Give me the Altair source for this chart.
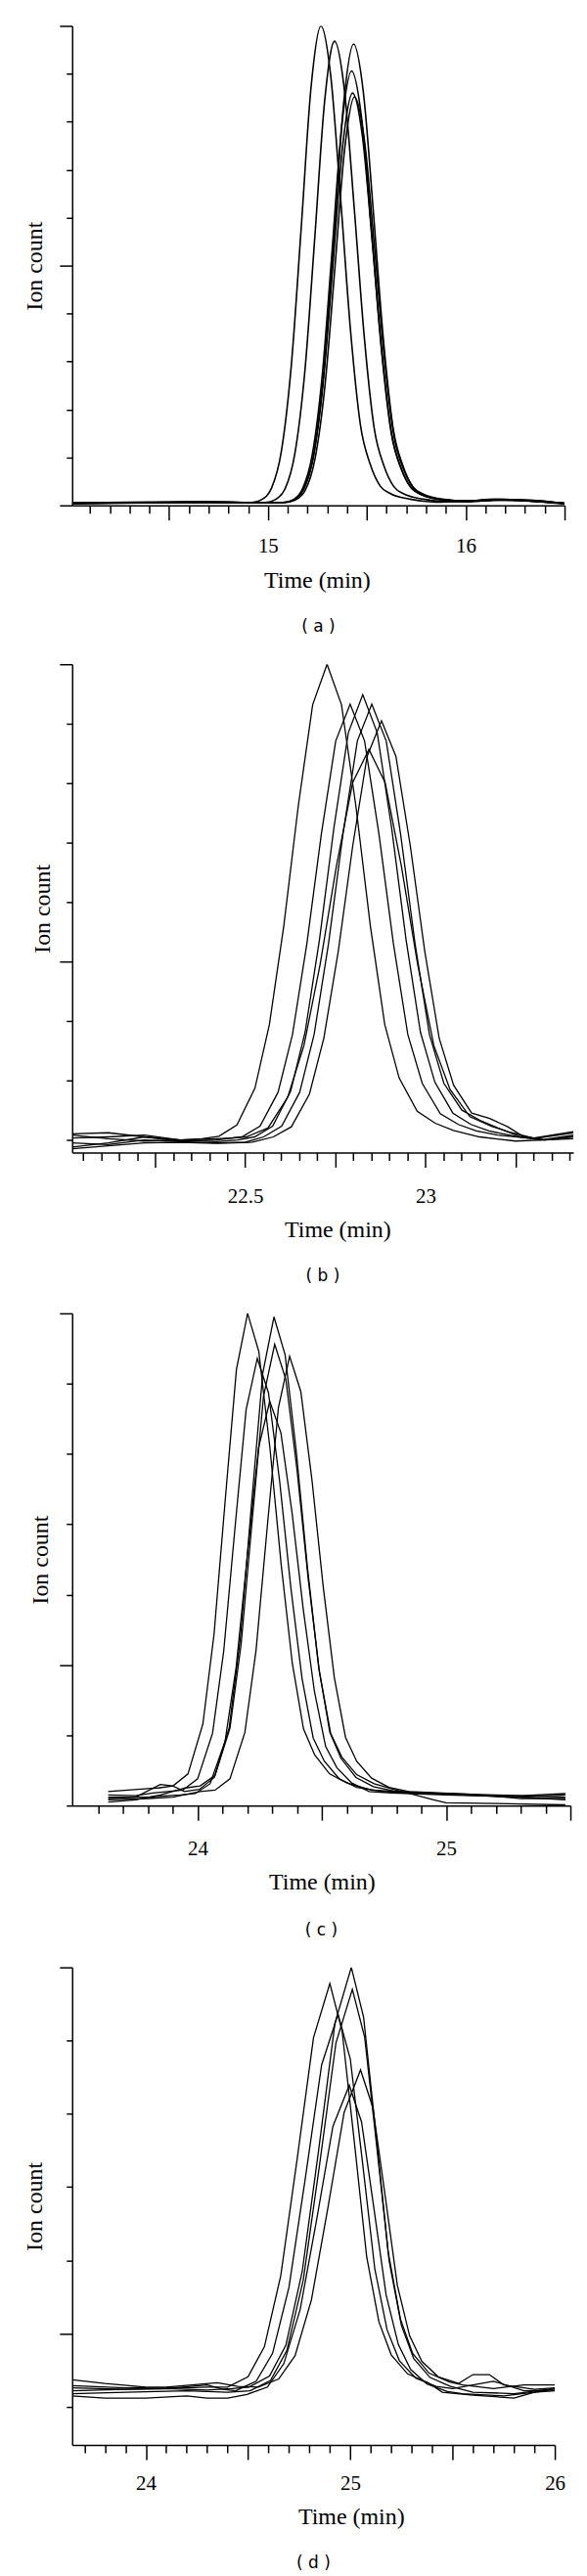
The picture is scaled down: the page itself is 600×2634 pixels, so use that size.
import altair as alt
import pandas as pd

# ---------------- Panel (a) ----------------
A1_T = [14.01, 14.4, 14.7, 14.918, 14.968, 15.018, 15.068, 15.118, 15.168, 15.218, 15.268, 15.318, 15.368, 15.418, 15.468, 15.518, 15.568, 15.618, 15.718, 15.85, 16.0, 16.15, 16.3, 16.5]
A1_V = [0.04, 0.06, 0.07, 0.06, 0.12, 0.36, 1.13, 2.91, 5.77, 8.72, 10.0, 8.94, 6.37, 3.63, 1.67, 0.85, 0.40, 0.25, 0.13, 0.07, 0.09, 0.12, 0.10, 0.04]
A2_T = [14.01, 14.4, 14.7, 14.9, 14.987, 15.037, 15.087, 15.137, 15.187, 15.237, 15.287, 15.337, 15.387, 15.437, 15.487, 15.537, 15.587, 15.637, 15.687, 15.787, 15.9, 16.05, 16.2, 16.35, 16.5]
A2_V = [0.05, 0.07, 0.06, 0.05, 0.06, 0.12, 0.35, 1.10, 2.81, 5.59, 8.44, 9.68, 8.65, 6.17, 3.52, 1.62, 0.82, 0.39, 0.24, 0.13, 0.08, 0.10, 0.11, 0.08, 0.05]
A3_T = [14.01, 14.35, 14.65, 14.9, 15.0, 15.083, 15.133, 15.183, 15.233, 15.283, 15.333, 15.383, 15.433, 15.483, 15.533, 15.583, 15.633, 15.683, 15.733, 15.783, 15.883, 16.0, 16.15, 16.3, 16.5]
A3_V = [0.03, 0.05, 0.08, 0.05, 0.05, 0.06, 0.12, 0.35, 1.09, 2.80, 5.55, 8.39, 9.62, 8.60, 6.13, 3.50, 1.61, 0.82, 0.39, 0.24, 0.13, 0.09, 0.13, 0.10, 0.03]
A4_T = [14.01, 14.4, 14.75, 14.95, 15.073, 15.123, 15.173, 15.223, 15.273, 15.323, 15.373, 15.423, 15.473, 15.523, 15.573, 15.623, 15.673, 15.723, 15.773, 15.873, 16.0, 16.2, 16.35, 16.5]
A4_V = [0.05, 0.06, 0.07, 0.05, 0.06, 0.11, 0.33, 1.03, 2.64, 5.23, 7.90, 9.06, 8.10, 5.77, 3.29, 1.52, 0.77, 0.37, 0.23, 0.12, 0.08, 0.12, 0.10, 0.04]
A5_T = [14.01, 14.45, 14.8, 14.95, 15.078, 15.128, 15.178, 15.228, 15.278, 15.328, 15.378, 15.428, 15.478, 15.528, 15.578, 15.628, 15.678, 15.728, 15.778, 15.878, 16.0, 16.15, 16.3, 16.5]
A5_V = [0.04, 0.06, 0.06, 0.05, 0.06, 0.11, 0.32, 0.98, 2.50, 4.97, 7.50, 8.60, 7.69, 5.48, 3.13, 1.44, 0.73, 0.35, 0.22, 0.12, 0.08, 0.11, 0.11, 0.04]
A6_T = [14.01, 14.5, 14.8, 14.95, 15.088, 15.138, 15.188, 15.238, 15.288, 15.338, 15.388, 15.438, 15.488, 15.538, 15.588, 15.638, 15.688, 15.738, 15.788, 15.888, 16.0, 16.2, 16.35, 16.5]
A6_V = [0.05, 0.06, 0.07, 0.05, 0.06, 0.11, 0.31, 0.97, 2.48, 4.92, 7.43, 8.52, 7.61, 5.43, 3.10, 1.43, 0.73, 0.35, 0.22, 0.12, 0.09, 0.12, 0.09, 0.04]

# ---------------- Panel (b) ----------------
B1_T = [22.02, 22.12, 22.22, 22.32, 22.38, 22.427, 22.477, 22.527, 22.567, 22.607, 22.647, 22.687, 22.727, 22.767, 22.807, 22.847, 22.887, 22.927, 22.977, 23.027, 23.077, 23.15, 23.25, 23.33, 23.41]
B1_V = [0.10, 0.12, 0.05, 0.00, 0.02, 0.06, 0.25, 0.87, 1.94, 3.60, 5.61, 7.32, 8.00, 7.32, 5.61, 3.60, 1.94, 1.04, 0.48, 0.28, 0.16, 0.05, -0.02, 0.00, 0.05]
B2_T = [22.02, 22.12, 22.22, 22.32, 22.42, 22.491, 22.541, 22.591, 22.631, 22.671, 22.711, 22.751, 22.791, 22.831, 22.871, 22.911, 22.951, 22.991, 23.041, 23.091, 23.141, 23.2, 23.3, 23.41]
B2_V = [-0.12, -0.05, 0.05, -0.02, 0.00, 0.05, 0.23, 0.80, 1.77, 3.30, 5.14, 6.71, 7.33, 6.71, 5.14, 3.30, 1.77, 0.95, 0.44, 0.26, 0.15, 0.08, 0.02, 0.12]
B3_T = [22.02, 22.12, 22.22, 22.32, 22.42, 22.48, 22.526, 22.576, 22.626, 22.666, 22.706, 22.746, 22.786, 22.826, 22.866, 22.906, 22.946, 22.986, 23.026, 23.076, 23.126, 23.176, 23.25, 23.32, 23.41]
B3_V = [0.03, 0.05, 0.08, 0.00, -0.03, 0.00, 0.05, 0.23, 0.82, 1.81, 3.37, 5.25, 6.85, 7.49, 6.85, 5.25, 3.37, 1.81, 0.97, 0.45, 0.26, 0.15, 0.06, 0.00, 0.08]
B4_T = [22.02, 22.12, 22.22, 22.32, 22.42, 22.5, 22.551, 22.601, 22.651, 22.691, 22.731, 22.771, 22.811, 22.851, 22.891, 22.931, 22.971, 23.011, 23.051, 23.101, 23.151, 23.201, 23.26, 23.33, 23.41]
B4_V = [-0.05, -0.08, 0.00, -0.03, -0.05, -0.04, 0.05, 0.23, 0.80, 1.77, 3.30, 5.14, 6.71, 7.33, 6.71, 5.14, 3.30, 1.77, 0.95, 0.50, 0.33, 0.20, 0.06, 0.00, 0.02]
B5_T = [22.02, 22.12, 22.22, 22.32, 22.42, 22.52, 22.578, 22.628, 22.678, 22.718, 22.758, 22.798, 22.838, 22.878, 22.918, 22.958, 22.998, 23.038, 23.078, 23.128, 23.178, 23.228, 23.27, 23.33, 23.41]
B5_V = [-0.15, -0.10, -0.05, -0.04, -0.06, -0.04, 0.05, 0.22, 0.77, 1.71, 3.17, 4.94, 6.45, 7.05, 6.45, 4.94, 3.17, 1.71, 0.92, 0.45, 0.36, 0.22, 0.06, 0.00, 0.06]
B6_T = [22.02, 22.12, 22.22, 22.32, 22.42, 22.46, 22.503, 22.563, 22.618, 22.663, 22.708, 22.753, 22.798, 22.843, 22.888, 22.933, 22.978, 23.023, 23.068, 23.123, 23.183, 23.233, 23.3, 23.41]
B6_V = [0.08, 0.02, -0.02, 0.00, 0.02, 0.03, 0.05, 0.20, 0.72, 1.59, 2.96, 4.61, 6.01, 6.57, 6.01, 4.61, 2.96, 1.59, 0.85, 0.39, 0.23, 0.13, 0.03, 0.14]

# ---------------- Panel (c) ----------------
C1_T = [23.64, 23.72, 23.80, 23.841, 23.901, 23.961, 24.021, 24.066, 24.111, 24.156, 24.201, 24.246, 24.291, 24.336, 24.381, 24.426, 24.471, 24.531, 24.601, 24.7, 24.9, 25.1, 25.3, 25.48]
C1_V = [0.20, 0.22, 0.24, 0.25, 0.28, 0.45, 1.16, 2.44, 4.35, 6.20, 7.00, 6.46, 5.08, 3.43, 2.02, 1.09, 0.72, 0.45, 0.32, 0.22, 0.18, 0.15, 0.14, 0.17]
C2_T = [23.64, 23.75, 23.85, 23.9, 23.947, 24.007, 24.067, 24.127, 24.172, 24.217, 24.262, 24.307, 24.352, 24.397, 24.442, 24.487, 24.532, 24.577, 24.637, 24.707, 24.8, 25.0, 25.2, 25.48]
C2_V = [0.10, 0.12, 0.30, 0.28, 0.20, 0.23, 0.40, 1.11, 2.39, 4.30, 6.15, 6.95, 6.41, 5.03, 3.38, 1.97, 1.04, 0.67, 0.40, 0.27, 0.20, 0.17, 0.15, 0.12]
C3_T = [23.64, 23.75, 23.85, 23.95, 24.01, 24.07, 24.13, 24.175, 24.22, 24.265, 24.31, 24.355, 24.4, 24.445, 24.49, 24.535, 24.58, 24.64, 24.71, 24.8, 24.95, 25.0, 25.2, 25.48]
C3_V = [0.05, 0.08, 0.15, 0.25, 0.28, 0.43, 1.10, 2.30, 4.08, 5.82, 6.56, 6.06, 4.77, 3.22, 1.90, 1.03, 0.69, 0.44, 0.31, 0.22, 0.08, 0.04, 0.03, 0.01]
C4_T = [23.64, 23.75, 23.82, 23.88, 23.94, 24.0, 24.06, 24.105, 24.15, 24.195, 24.24, 24.285, 24.33, 24.375, 24.42, 24.465, 24.51, 24.57, 24.64, 24.75, 25.0, 25.3, 25.48]
C4_V = [0.15, 0.14, 0.18, 0.20, 0.22, 0.38, 1.03, 2.20, 3.94, 5.63, 6.36, 5.87, 4.61, 3.10, 1.81, 0.96, 0.63, 0.38, 0.26, 0.20, 0.16, 0.12, 0.15]
C5_T = [23.64, 23.8, 23.9, 24.01, 24.07, 24.13, 24.19, 24.235, 24.28, 24.325, 24.37, 24.415, 24.46, 24.505, 24.55, 24.595, 24.64, 24.70, 24.77, 24.85, 25.1, 25.3, 25.48]
C5_V = [0.08, 0.10, 0.12, 0.20, 0.22, 0.38, 1.04, 2.21, 3.96, 5.66, 6.39, 5.89, 4.63, 3.12, 1.82, 0.97, 0.63, 0.39, 0.26, 0.20, 0.16, 0.10, 0.10]
C6_T = [23.64, 23.8, 23.88, 23.93, 23.99, 24.05, 24.11, 24.155, 24.2, 24.245, 24.29, 24.335, 24.38, 24.425, 24.47, 24.515, 24.56, 24.62, 24.69, 24.78, 25.0, 25.3, 25.48]
C6_V = [0.12, 0.12, 0.14, 0.15, 0.17, 0.31, 0.91, 1.97, 3.55, 5.09, 5.75, 5.30, 4.16, 2.79, 1.62, 0.84, 0.54, 0.32, 0.20, 0.18, 0.15, 0.12, 0.08]

# ---------------- Panel (d) ----------------
D1_T = [23.64, 23.8, 24.0, 24.2, 24.3, 24.4, 24.5, 24.58, 24.66, 24.74, 24.82, 24.9, 24.96, 25.02, 25.08, 25.14, 25.2, 25.28, 25.38, 25.45, 25.6, 25.8, 25.9, 26.0]
D1_V = [0.37, 0.32, 0.27, 0.26, 0.27, 0.27, 0.41, 0.82, 1.79, 3.38, 5.04, 5.78, 5.13, 3.61, 2.05, 1.16, 0.71, 0.45, 0.33, 0.20, 0.16, 0.12, 0.20, 0.22]
D2_T = [23.64, 23.9, 24.1, 24.3, 24.42, 24.505, 24.605, 24.685, 24.765, 24.845, 24.925, 25.005, 25.065, 25.125, 25.185, 25.245, 25.305, 25.385, 25.485, 25.55, 25.7, 25.85, 26.0]
D2_V = [0.22, 0.24, 0.25, 0.23, 0.25, 0.27, 0.42, 0.84, 1.85, 3.50, 5.24, 6.00, 5.32, 3.74, 2.12, 1.20, 0.73, 0.46, 0.34, 0.30, 0.25, 0.30, 0.30]
D3_T = [23.64, 23.9, 24.2, 24.4, 24.51, 24.61, 24.69, 24.77, 24.85, 24.93, 25.01, 25.07, 25.13, 25.19, 25.25, 25.31, 25.39, 25.49, 25.6, 25.8, 26.0]
D3_V = [0.18, 0.20, 0.22, 0.20, 0.22, 0.36, 0.77, 1.73, 3.31, 4.97, 5.70, 5.05, 3.54, 1.99, 1.11, 0.66, 0.40, 0.28, 0.20, 0.18, 0.25]
D4_T = [23.64, 23.9, 24.1, 24.35, 24.45, 24.55, 24.65, 24.73, 24.81, 24.89, 24.97, 25.05, 25.11, 25.17, 25.23, 25.29, 25.35, 25.43, 25.53, 25.6, 25.68, 25.75, 25.9, 26.0]
D4_V = [0.29, 0.26, 0.27, 0.33, 0.28, 0.27, 0.38, 0.70, 1.46, 2.71, 4.02, 4.60, 4.09, 2.89, 1.66, 0.97, 0.62, 0.41, 0.32, 0.44, 0.44, 0.30, 0.24, 0.26]
D5_T = [23.64, 23.8, 24.0, 24.2, 24.3, 24.4, 24.495, 24.595, 24.675, 24.755, 24.835, 24.915, 24.995, 25.055, 25.115, 25.175, 25.235, 25.295, 25.375, 25.475, 25.55, 25.75, 25.9, 26.0]
D5_V = [0.15, 0.12, 0.12, 0.15, 0.12, 0.12, 0.17, 0.27, 0.59, 1.33, 2.55, 3.83, 4.39, 3.89, 2.72, 1.53, 0.85, 0.51, 0.31, 0.21, 0.18, 0.15, 0.20, 0.25]
D6_T = [23.64, 23.9, 24.1, 24.3, 24.38, 24.44, 24.54, 24.62, 24.70, 24.78, 24.86, 24.94, 25.0, 25.06, 25.12, 25.18, 25.24, 25.32, 25.42, 25.5, 25.6, 25.7, 25.85, 26.0]
D6_V = [0.26, 0.24, 0.25, 0.30, 0.24, 0.22, 0.35, 0.73, 1.63, 3.12, 4.67, 5.36, 4.75, 3.33, 1.88, 1.05, 0.63, 0.39, 0.28, 0.25, 0.30, 0.35, 0.22, 0.23]

# ---------------- Axis ticks ----------------
XT_A = [14.1, 14.2, 14.3, 14.4, 14.5, 14.6, 14.7, 14.8, 14.9, 15.0, 15.1, 15.2, 15.3, 15.4, 15.5, 15.6, 15.7, 15.8, 15.9, 16.0, 16.1, 16.2, 16.3, 16.4, 16.5]
XT_B = [22.05, 22.1, 22.15, 22.2, 22.25, 22.3, 22.35, 22.4, 22.45, 22.5, 22.55, 22.6, 22.65, 22.7, 22.75, 22.8, 22.85, 22.9, 22.95, 23.0, 23.05, 23.1, 23.15, 23.2, 23.25, 23.3, 23.35, 23.4]
XT_C = [23.6, 23.7, 23.8, 23.9, 24.0, 24.1, 24.2, 24.3, 24.4, 24.5, 24.6, 24.7, 24.8, 24.9, 25.0, 25.1, 25.2, 25.3, 25.4, 25.5]
XT_D = [23.7, 23.8, 23.9, 24.0, 24.1, 24.2, 24.3, 24.4, 24.5, 24.6, 24.7, 24.8, 24.9, 25.0, 25.1, 25.2, 25.3, 25.4, 25.5, 25.6, 25.7, 25.8, 25.9, 26.0]
YT_A = [0, 1, 2, 3, 4, 5, 6, 7, 8, 9, 10]
YT_B = [0, 1, 2, 3, 4, 5, 6, 7, 8]
YT_C = [0, 1, 2, 3, 4, 5, 6, 7]
YT_D = [0, 1, 2, 3, 4, 5, 6]
YMAJ_A = [0, 5, 10]
YMAJ_B = [3, 8]
YMAJ_C = [2, 7]
YMAJ_D = [1, 6]

SERIF = "Liberation Serif"
SANS = "DejaVu Sans"

HALF = "abs(datum.value * 2 - round(datum.value * 2)) < 0.001"
QUARTER = "abs(datum.value * 4 - round(datum.value * 4)) < 0.001"
WHOLE = "abs(datum.value - round(datum.value)) < 0.001"


def frame(curves):
    rows = []
    for name, ts, vs in curves:
        for i, (t, v) in enumerate(zip(ts, vs)):
            rows.append({"run": name, "t": t, "v": v, "i": i})
    return pd.DataFrame(rows)


def panel(df, xdom, ydom, xticks, yticks, xmajor, ymaj, xlab, width, height,
          interp, sw, xtitle_x, ytitle_x, label_pad, xtitle_y, caption, cap_off):
    xaxis = alt.Axis(
        values=xticks, title="Time (min)", grid=False,
        tickSize={"condition": {"test": xmajor, "value": 15}, "value": 8},
        tickColor="black", tickWidth=1.5, domainColor="black", domainWidth=1.5,
        labelExpr=f"({xlab}) ? format(datum.value, '~g') : ''",
        labelFont=SERIF, labelFontSize=21, labelColor="black", labelAngle=0,
        labelBaseline="alphabetic", labelPadding=label_pad, labelFlush=False,
        labelOverlap=False,
        titleFont=SERIF, titleFontSize=24, titleFontWeight="normal", titleColor="black",
        titleX=xtitle_x, titleY=xtitle_y, titleBaseline="alphabetic",
        titleAlign="center", titleAngle=0)
    ytest = " || ".join(f"datum.value === {m}" for m in ymaj)
    yaxis = alt.Axis(
        values=yticks, labels=False, title="Ion count", grid=False,
        tickSize={"condition": {"test": ytest, "value": 13}, "value": 6},
        tickColor="black", tickWidth=1.5, domainColor="black", domainWidth=1.5,
        titleFont=SERIF, titleFontSize=24, titleFontWeight="normal", titleColor="black",
        titleX=ytitle_x, titleY=height / 2, titleAngle=270,
        titleBaseline="alphabetic", titleAlign="center")
    return alt.Chart(df).mark_line(
        color="black", strokeWidth=sw, interpolate=interp, clip=True
    ).encode(
        x=alt.X("t:Q", scale=alt.Scale(domain=xdom, nice=False, zero=False), axis=xaxis),
        y=alt.Y("v:Q", scale=alt.Scale(domain=ydom, nice=False, zero=False), axis=yaxis),
        detail="run:N",
        order="i:Q",
    ).properties(
        width=width, height=height,
        title=alt.TitleParams(caption, orient="bottom", font=SANS, fontSize=17,
                              fontWeight="normal", color="black", offset=cap_off,
                              anchor="middle", frame="group"),
    )


df_a = frame([("1", A1_T, A1_V), ("2", A2_T, A2_V), ("3", A3_T, A3_V),
              ("4", A4_T, A4_V), ("5", A5_T, A5_V), ("6", A6_T, A6_V)])
df_b = frame([("1", B1_T, B1_V), ("2", B2_T, B2_V), ("3", B3_T, B3_V),
              ("4", B4_T, B4_V), ("5", B5_T, B5_V), ("6", B6_T, B6_V)])
df_c = frame([("1", C1_T, C1_V), ("2", C2_T, C2_V), ("3", C3_T, C3_V),
              ("4", C4_T, C4_V), ("5", C5_T, C5_V), ("6", C6_T, C6_V)])
df_d = frame([("1", D1_T, D1_V), ("2", D2_T, D2_V), ("3", D3_T, D3_V),
              ("4", D4_T, D4_V), ("5", D5_T, D5_V), ("6", D6_T, D6_V)])

pa = panel(df_a, [14.01, 16.5], [0, 10], XT_A, YT_A, HALF, YMAJ_A, WHOLE,
           505, 492, "monotone", 1.6, 251, -31, 33, 84, "( a )", 28)
pb = panel(df_b, [22.02, 23.41], [-0.213, 8], XT_B, YT_B, QUARTER, YMAJ_B, HALF,
           514, 501, "linear", 1.3, 272, -23, 36, 86, "( b )", 28)
pc = panel(df_c, [23.495, 25.5], [0, 7], XT_C, YT_C, HALF, YMAJ_C, WHOLE,
           511, 505, "linear", 1.3, 256, -25, 35, 86, "( c )", 29)
pd_ = panel(df_d, [23.64, 26.0], [-0.52, 6], XT_D, YT_D, HALF, YMAJ_D, WHOLE,
            495, 490, "linear", 1.3, 286, -31, 31, 81, "( d )", 27)

chart = alt.concat(pa, pb, pc, pd_, columns=1, spacing=27, align="none").properties(
    padding={"left": 15, "top": 12, "right": 5, "bottom": 5},
    background="white",
).configure_view(stroke="transparent")

chart.save("out.html", embed_options={"renderer": "svg", "actions": False})
